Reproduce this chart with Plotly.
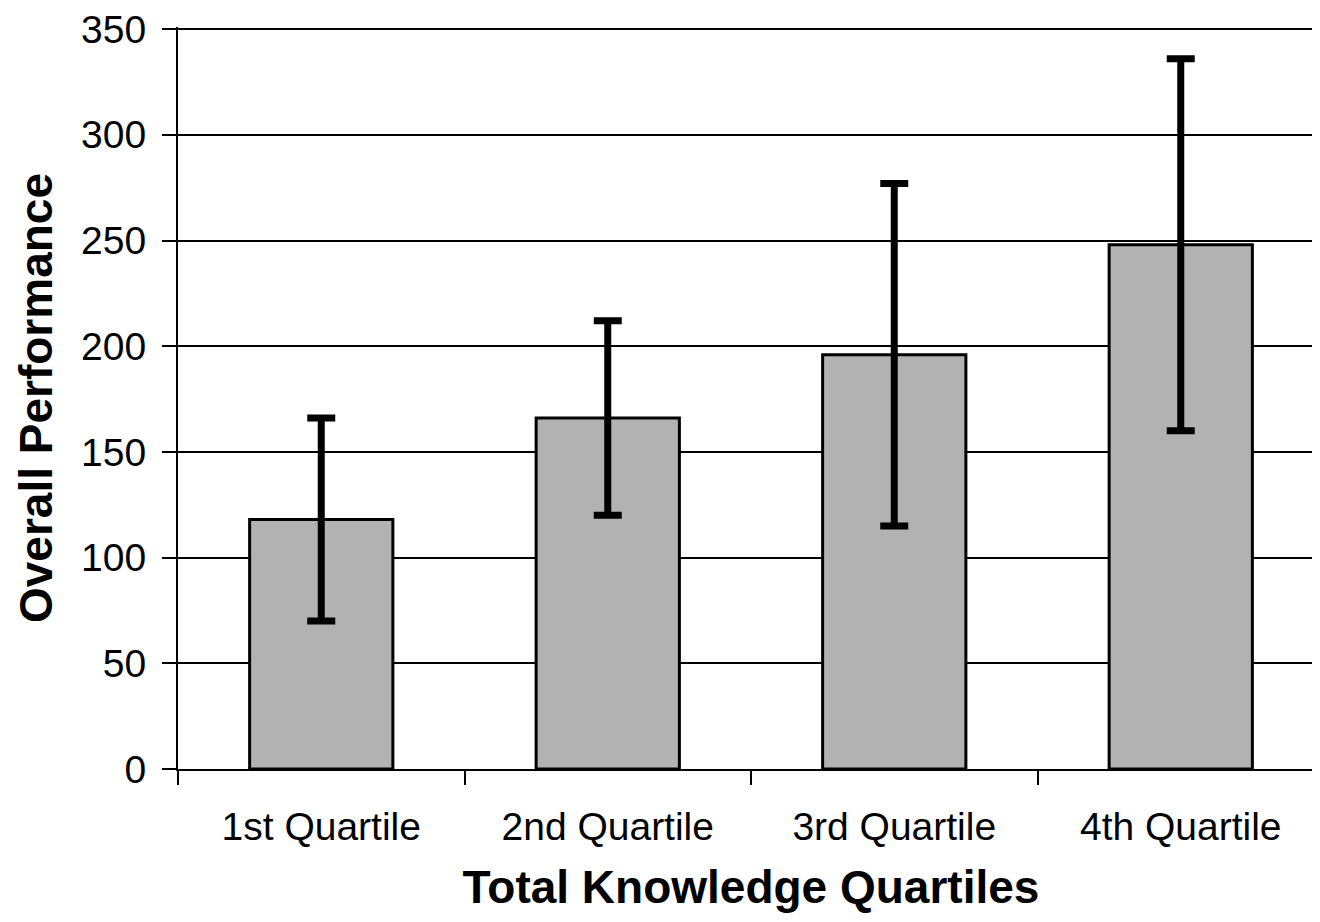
import plotly.graph_objects as go

categories = ["1st Quartile", "2nd Quartile", "3rd Quartile", "4th Quartile"]
means = [118, 166, 196, 248]
errors = [48, 46, 81, 88]

fig = go.Figure()
fig.add_trace(go.Bar(
    x=categories, y=means,
    width=0.5,
    marker=dict(color="#b2b2b2", line=dict(color="black", width=3)),
    error_y=dict(type="data", array=errors, visible=True, color="black",
                 thickness=7, width=14),
))

font = "Liberation Sans, Arial, sans-serif"
fig.update_layout(
    width=1320, height=922,
    margin=dict(l=170, r=4, t=19, b=161),
    paper_bgcolor="white", plot_bgcolor="white",
    showlegend=False,
    font=dict(family=font, color="black"),
    xaxis=dict(
        automargin=False,
        showline=True, linecolor="black", linewidth=2,
        ticks="outside", ticklen=14, tickwidth=2, tickcolor="black",
        tickson="boundaries",
        ticklabelstandoff=22,
        tickfont=dict(size=39, family=font, color="black"),
        title=dict(text="<b>Total Knowledge Quartiles</b>",
                   font=dict(size=46, family=font, color="black"), standoff=24),
        showgrid=False,
    ),
    yaxis=dict(
        automargin=False,
        range=[0, 351], tickmode="array",
        tickvals=[0, 50, 100, 150, 200, 250, 300, 350],
        showline=True, linecolor="black", linewidth=2,
        ticks="outside", ticklen=14, tickwidth=2, tickcolor="black",
        ticklabelstandoff=8, ticklabeloverflow="allow",
        showgrid=True, gridcolor="black", gridwidth=2,
        zeroline=False,
        tickfont=dict(size=39, family=font, color="black"),
        title=dict(text="<b>Overall Performance</b>",
                   font=dict(size=46, family=font, color="black"), standoff=14),
    ),
)
fig.write_html("out.html")
